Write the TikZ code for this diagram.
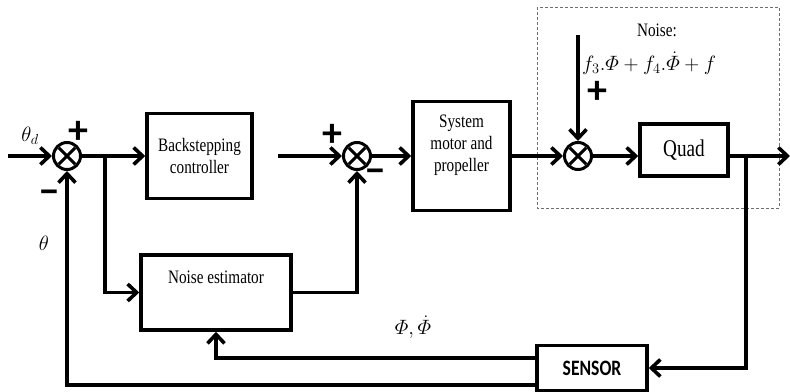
\documentclass[tikz,border=0pt]{standalone}
\usepackage{amsmath}
\usepackage{fontspec}
\setmainfont{Liberation Serif}[FakeStretch=0.8]
\newfontfamily\signfont{Carlito}
\newfontfamily\sensfont{Carlito}[FakeStretch=0.8]
\usetikzlibrary{arrows.meta,calc}
\definecolor{noisegray}{HTML}{6E6E6E}
\tikzset{
  qblock/.style={draw,line width=3.5pt,inner sep=2pt,align=center,font=\fontsize{19}{22}\selectfont},
  qsum/.style={draw,circle,line width=3pt,minimum size=27pt,inner sep=0pt},
  qline/.style={line width=3.6pt},
  qarrow/.style={qline,-{Straight Barb[length=9pt,width=17pt]}},
  qsign/.style={font=\signfont\bfseries\fontsize{40}{40}\selectfont,inner sep=0pt},
  qmath/.style={font=\fontsize{20}{24}\selectfont,inner sep=0pt},
  qinner/.style={align=center,anchor=north,inner sep=0pt,font=\fontsize{19}{22}\selectfont},
  qnoise/.style={draw=noisegray,line width=0.8pt,dash pattern=on 3pt off 2pt}
}
\begin{document}
\begin{tikzpicture}[x=1pt,y=-1pt]
\useasboundingbox (0,0) rectangle (790,391);
% disturbance region
\draw[qnoise] (537,7) rectangle (779,208);
% summing junctions
\node[qsum] (s1) at (67,156) {};
\node[qsum] (s2) at (357,156) {};
\node[qsum] (s3) at (578,156) {};
\foreach \n in {s1,s2,s3}{\draw[line width=3pt] (\n.center) +(45:11.5) -- +(225:11.5) +(135:11.5) -- +(315:11.5);}
% blocks
\node[qblock,minimum width=105pt,minimum height=85pt] (bsc) at (199.5,156) {Backstepping\\controller};
\node[qblock,minimum width=97pt,minimum height=109pt,
      label={[qinner,yshift=-15pt]north:System\\motor and\\propeller}] (sys) at (461.5,156) {};
\node[qblock,font=\fontsize{24}{28}\selectfont,minimum width=88pt,minimum height=52pt] (quad) at (684,150) {Quad};
\node[qblock,minimum width=150pt,minimum height=75pt,
      label={[qinner,yshift=-17pt]north:Noise estimator}] (nest) at (216,292.5) {};
\node[qblock,font=\sensfont\bfseries\fontsize{22}{26}\selectfont,minimum width=110pt,minimum height=45pt] (sens) at (592,368) {SENSOR};
% free ends and branch points
\coordinate (in) at (8,156);
\coordinate (b1) at (105,156);
\coordinate (u) at (278,156);
\coordinate (nz) at (578,35);
\coordinate (b2) at (746,156);
\coordinate (out) at (790,156);
% signal flow
\draw[qarrow] (in) -- (s1);
\draw[qarrow] (s1) -- (bsc);
\draw[qarrow] (b1) |- (nest);
\draw[qarrow] (u) -- (s2);
\draw[qarrow] (nest) -| (s2);
\draw[qarrow] (s2) -- (sys);
\draw[qarrow] (sys) -- (s3);
\draw[qarrow] (nz) -- (s3);
\draw[qarrow] (s3) -- (s3 -| quad.west);
\draw[qarrow] (b2 -| quad.east) -- (out);
\draw[qarrow] (b2) |- (sens);
\draw[qarrow] ([yshift=10pt]sens.west) -| (nest);
\draw[qarrow] ([yshift=-17pt]sens.west) -| (s1);
% signs and labels
\node[qmath] (thd) at (30,136) {$\theta_d$};
\node[qmath] (th) at (44,243) {$\theta$};
\node[qsign] (p1) at (78,132) {+};
\node[qsign] (m1) at (49,197) {−};
\node[qsign] (p2) at (332,135) {+};
\node[qsign] (m2) at (375,176) {−};
\node[qsign] (p3) at (597,92) {+};
\node[inner sep=0pt,font=\fontsize{19}{22}\selectfont] (nzt) at (657,30) {Noise:};
\node[qmath,anchor=west] (nzf) at (582,63) {$f_3.\varPhi+f_4.\dot{\varPhi}+f$};
\node[qmath] (phi) at (413,327) {$\varPhi,\dot{\varPhi}$};
\end{tikzpicture}
\end{document}
